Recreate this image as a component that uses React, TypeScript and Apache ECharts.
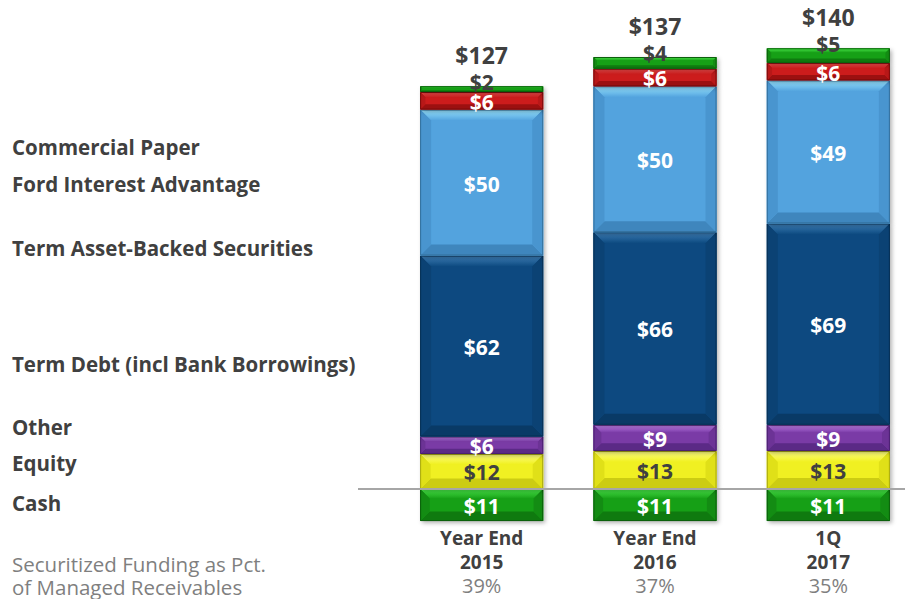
import React, { useEffect, useRef } from "react";
import * as echarts from "echarts";

const categories = ["Year End\n2015", "Year End\n2016", "1Q\n2017"];
const securitizedPct = [39, 37, 35];
const totals = [127, 137, 140];
const cash = [11, 11, 11];
const equity = [12, 13, 13];
const other = [6, 9, 9];
const termDebt = [62, 66, 69];
const termABS = [50, 50, 49];
const fordInterestAdvantage = [6, 6, 6];
const commercialPaper = [2, 4, 5];

const sideLabels = [
  "Commercial Paper",
  "Ford Interest Advantage",
  "Term Asset-Backed Securities",
  "Term Debt (incl Bank Borrowings)",
  "Other",
  "Equity",
  "Cash",
];
const sideLabelY = [150, 187, 251, 367, 430, 466, 506];
const noteLines = ["Securitized Funding as Pct.", "of Managed Receivables"];

const DARK = "#404040";
const GRAY = "#7f7f7f";
const FONT = '"Open Sans", "Liberation Sans", Arial, sans-serif';
const BAR_RATIO = 0.71;

type Pal = { base: string; top: string; bottom: string; side: string; edge: string };
const PAL: Record<string, Pal> = {
  green: { base: "#17a017", top: "#4ae84a", bottom: "#0f7a0f", side: "#138c13", edge: "#0b5e0b" },
  yellow: { base: "#f0f020", top: "#ffff85", bottom: "#cccc12", side: "#e0e018", edge: "#a8a810" },
  purple: { base: "#7a3aa6", top: "#c586f2", bottom: "#5b2a86", side: "#6c3396", edge: "#4a2070" },
  navy: { base: "#0d4a80", top: "#3f80b8", bottom: "#093a66", side: "#0b4274", edge: "#073055" },
  sky: { base: "#52a3de", top: "#98e4ff", bottom: "#3f86bd", side: "#4995cf", edge: "#336f9c" },
  red: { base: "#cc1e1e", top: "#ff5252", bottom: "#9c1010", side: "#b81818", edge: "#7a0c0c" },
};

const stackDefs = [
  { name: "Equity", values: equity, pal: PAL.yellow, label: DARK, mode: "inside" },
  { name: "Other", values: other, pal: PAL.purple, label: "#ffffff", mode: "inside" },
  { name: "Term Debt (incl Bank Borrowings)", values: termDebt, pal: PAL.navy, label: "#ffffff", mode: "inside" },
  { name: "Term Asset-Backed Securities", values: termABS, pal: PAL.sky, label: "#ffffff", mode: "inside" },
  { name: "Ford Interest Advantage", values: fordInterestAdvantage, pal: PAL.red, label: "#ffffff", mode: "inside" },
  { name: "Commercial Paper", values: commercialPaper, pal: PAL.green, label: DARK, mode: "above" },
];

function makeRender(pal: Pal, labelColor: string, mode: string) {
  return (params: any, api: any) => {
    const idx = api.value(0);
    const lo = api.value(1);
    const hi = api.value(2);
    const val = api.value(3);
    const pLo = api.coord([idx, lo]);
    const pHi = api.coord([idx, hi]);
    const w = api.size([1, 0])[0] * BAR_RATIO;
    const x0 = pLo[0] - w / 2;
    const y0 = Math.min(pLo[1], pHi[1]);
    const h = Math.abs(pLo[1] - pHi[1]);
    const b = Math.min(11, h * 0.3);
    const cx = pLo[0];
    const labelY = mode === "above" ? y0 - 4 : y0 + h / 2 + 1;
    return {
      type: "group",
      children: [
        {
          type: "rect",
          shape: { x: x0, y: y0, width: w, height: h },
          style: {
            fill: pal.base,
            shadowBlur: 4,
            shadowOffsetX: 2,
            shadowOffsetY: 2,
            shadowColor: "rgba(0,0,0,0.3)",
          },
        },
        {
          type: "polygon",
          shape: { points: [[x0, y0], [x0 + w, y0], [x0 + w - b, y0 + b], [x0 + b, y0 + b]] },
          style: {
            fill: new echarts.graphic.LinearGradient(0, 0, 0, 1, [
              { offset: 0, color: pal.top },
              { offset: 1, color: pal.base },
            ]),
          },
        },
        {
          type: "polygon",
          shape: { points: [[x0, y0 + h], [x0 + w, y0 + h], [x0 + w - b, y0 + h - b], [x0 + b, y0 + h - b]] },
          style: { fill: pal.bottom },
        },
        {
          type: "polygon",
          shape: { points: [[x0, y0], [x0 + b, y0 + b], [x0 + b, y0 + h - b], [x0, y0 + h]] },
          style: { fill: pal.side },
        },
        {
          type: "polygon",
          shape: { points: [[x0 + w, y0], [x0 + w - b, y0 + b], [x0 + w - b, y0 + h - b], [x0 + w, y0 + h]] },
          style: { fill: pal.side },
        },
        {
          type: "rect",
          shape: { x: x0 + 0.5, y: y0 + 0.5, width: w - 1, height: h - 1 },
          style: { fill: "none", stroke: pal.edge, lineWidth: 1 },
        },
        {
          type: "text",
          z2: 10,
          style: {
            text: "$" + val,
            x: cx,
            y: labelY,
            align: "center",
            verticalAlign: "middle",
            fill: labelColor,
            fontSize: 21,
            fontWeight: "bold",
            fontFamily: FONT,
          },
        },
      ],
    };
  };
}

export default function App() {
  const ref = useRef<HTMLDivElement>(null);

  useEffect(() => {
    if (!ref.current) return;
    const chart = echarts.init(ref.current, undefined, { renderer: "svg" });

    const cum = categories.map(() => 0);
    const series: any[] = [];

    series.push({
      type: "custom",
      name: "Cash",
      renderItem: makeRender(PAL.green, "#ffffff", "inside"),
      data: cash.map((v, i) => [i, -v, 0, v]),
      encode: { x: 0, y: [1, 2] },
      z: 2,
    });

    stackDefs.forEach((d) => {
      const data = d.values.map((v, i) => {
        const lo = cum[i];
        cum[i] += v;
        return [i, lo, cum[i], v];
      });
      series.push({
        type: "custom",
        name: d.name,
        renderItem: makeRender(d.pal, d.label, d.mode),
        data,
        encode: { x: 0, y: [1, 2] },
        z: 2,
      });
    });

    series.push({
      type: "custom",
      name: "Total",
      renderItem: (params: any, api: any) => {
        const p = api.coord([api.value(0), api.value(1)]);
        return {
          type: "text",
          style: {
            text: "$" + api.value(2),
            x: p[0],
            y: p[1] - 31,
            align: "center",
            verticalAlign: "middle",
            fill: DARK,
            fontSize: 23,
            fontWeight: "bold",
            fontFamily: FONT,
          },
        };
      },
      data: totals.map((t, i) => [i, cum[i], t]),
      encode: { x: 0, y: 1 },
      z: 3,
    });

    const graphics: any[] = sideLabels.map((t, i) => ({
      type: "text",
      left: 12,
      top: sideLabelY[i] - 14,
      style: {
        text: t,
        fill: DARK,
        fontSize: 20.5,
        fontWeight: "bold",
        fontFamily: FONT,
      },
    }));
    graphics.push({
      type: "text",
      left: 12,
      top: 552,
      style: {
        text: noteLines.join("\n"),
        fill: GRAY,
        fontSize: 20.5,
        lineHeight: 23,
        fontFamily: FONT,
      },
    });

    chart.setOption({
      animation: false,
      grid: { left: 395, top: 22, width: 520, height: 502 },
      xAxis: {
        type: "category",
        data: categories,
        axisLine: { show: false },
        axisTick: { show: false },
        axisLabel: {
          margin: 2,
          interval: 0,
          formatter: (value: string, index: number) => {
            const parts = value.split("\n");
            return `{a|${parts[0]}}\n{a|${parts[1]}}\n{b|${securitizedPct[index]}%}`;
          },
          rich: {
            a: { fontSize: 19, fontWeight: "bold", color: DARK, lineHeight: 24, fontFamily: FONT },
            b: { fontSize: 20, color: GRAY, lineHeight: 23, fontFamily: FONT },
          },
        },
      },
      yAxis: { type: "value", min: -12, max: 160, show: false, splitLine: { show: false } },
      series,
      graphic: graphics,
    });

    const zeroY = chart.convertToPixel({ yAxisIndex: 0 }, 0) as number;
    graphics.push({
      type: "line",
      z: 100,
      shape: { x1: 358, y1: zeroY, x2: 905, y2: zeroY },
      style: { stroke: "#a6a6a6", lineWidth: 2 },
    });
    chart.setOption({ graphic: graphics });

    return () => chart.dispose();
  }, []);

  return (
    <div style={{ width: 905, height: 599, position: "absolute", left: 0, top: 0, overflow: "hidden" }}>
      <div ref={ref} style={{ width: 925, height: 599 }} />
    </div>
  );
}
